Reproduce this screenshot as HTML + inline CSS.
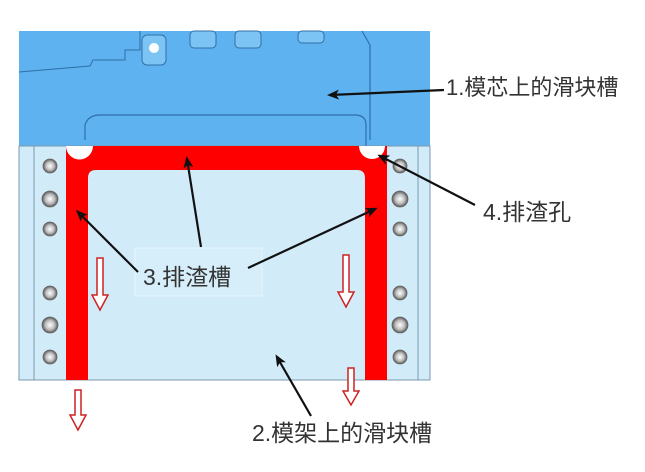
<!DOCTYPE html><html><head><meta charset="utf-8"><style>body{margin:0;background:#fff}svg text{font-family:"Liberation Sans","Noto Sans CJK SC",sans-serif}</style></head><body>
<svg width="645" height="467" viewBox="0 0 645 467" xmlns="http://www.w3.org/2000/svg">
<defs><marker id="a" markerWidth="12" markerHeight="10" refX="9" refY="5" orient="auto" markerUnits="userSpaceOnUse"><path d="M0,0 L12,5 L0,10 L3,5z" fill="#111"/></marker>
<radialGradient id="h"><stop offset="0" stop-color="#fff"/><stop offset=".6" stop-color="#bbb"/><stop offset="1" stop-color="#555"/></radialGradient></defs>
<rect x="19" y="31" width="411" height="115" fill="#5fb2f0"/>
<path d="M19 72 L90 66 L93 60 L125 60 L125 50 L140 50 L140 31" fill="none" stroke="#2f6fa8" stroke-width="1"/>
<path d="M362 31 L370 45 L370 140 M85 140 L85 125 Q88 115 100 115 L355 115 Q366 115 366 125 L366 146" fill="none" stroke="#2f6fa8" stroke-width="1.2"/>
<rect x="142" y="35" width="24" height="30" rx="5" fill="#7cc4f4" stroke="#2f6fa8"/><circle cx="154" cy="48" r="5" fill="#fff"/>
<rect x="190" y="31" width="26" height="17" rx="4" fill="#7cc4f4" stroke="#2f6fa8"/><rect x="235" y="31" width="26" height="17" rx="4" fill="#7cc4f4" stroke="#2f6fa8"/><rect x="298" y="31" width="26" height="12" rx="4" fill="#7cc4f4" stroke="#2f6fa8"/>
<rect x="19" y="146" width="411" height="234" fill="#d2ebf9" stroke="#7a98b0" stroke-width="1"/>
<line x1="34" y1="146" x2="34" y2="380" stroke="#7a98b0"/><line x1="418" y1="146" x2="418" y2="380" stroke="#7a98b0"/>
<path d="M66 146 H387 V380 H365 V178 Q365 170 357 170 H96 Q88 170 88 178 V380 H66Z" fill="#f00"/>
<path d="M66 146 A13 13 0 0 0 93 146Z" fill="#fff"/><path d="M359 146 A13 13 0 0 0 385 146Z" fill="#fff"/>
<g fill="url(#h)" stroke="#666" stroke-width=".8">
<circle cx="50" cy="166" r="7"/><circle cx="50" cy="199" r="8"/><circle cx="50" cy="229" r="7"/><circle cx="50" cy="293" r="7"/><circle cx="50" cy="325" r="8"/><circle cx="50" cy="357" r="7"/>
<circle cx="400" cy="166" r="7"/><circle cx="400" cy="199" r="8"/><circle cx="400" cy="229" r="7"/><circle cx="400" cy="293" r="7"/><circle cx="400" cy="325" r="8"/><circle cx="400" cy="357" r="7"/></g>
<rect x="135" y="248" width="127" height="48" fill="#d6eef9" stroke="#e8f4fa"/>
<g fill="#fff" stroke="#c22" stroke-width="1.5">
<path d="M97 258 H103 V295 H108 L100 310 L92 295 H97Z"/><path d="M343 255 H349 V292 H354 L346 307 L338 292 H343Z"/>
<path d="M75 390 H81 V415 H86 L78 430 L70 415 H75Z"/><path d="M348 368 H354 V391 H359 L351 405 L343 391 H348Z"/></g>
<g stroke="#111" stroke-width="2.2" fill="none" marker-end="url(#a)">
<line x1="444" y1="90" x2="330" y2="95"/><line x1="475" y1="205" x2="380" y2="156"/>
<line x1="201" y1="247" x2="187" y2="159"/><line x1="138" y1="272" x2="78" y2="212"/><line x1="248" y1="268" x2="375" y2="209"/>
<line x1="311" y1="416" x2="277" y2="357"/></g>
<g fill="#333" font-size="22">
<text x="446" y="95">1.模芯上的滑块槽</text><text x="483" y="220" font-size="23">4.排渣孔</text>
<text x="143" y="285" font-size="23">3.排渣槽</text><text x="252" y="441" font-size="23">2.模架上的滑块槽</text></g>
</svg></body></html>
